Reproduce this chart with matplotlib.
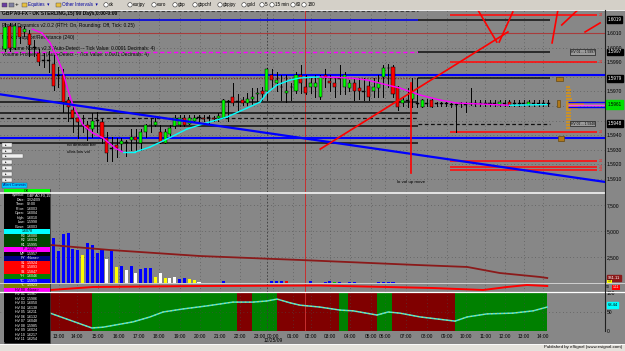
import matplotlib
matplotlib.use("Agg")
import matplotlib.pyplot as plt
from matplotlib.patches import Rectangle, Circle

plt.rcParams["font.family"] = ["Liberation Sans", "DejaVu Sans"]

W, H = 625, 351
BG = "#878787"
X0_PX, BAR_PX, PLOT_R = 5.0, 4.85, 605.0

# ---- 15 min bars, GBP A0-FX ----
opens = [1.5999, 1.6015, 1.6000, 1.6014, 1.6011, 1.6009, 1.6000, 1.5996, 1.5991, 1.5991,
         1.5989, 1.5981, 1.5981, 1.5964, 1.5957, 1.5952, 1.5947, 1.5947, 1.5944, 1.5950,
         1.5949, 1.5938, 1.5931, 1.5933, 1.5934, 1.5935, 1.5937, 1.5939, 1.5935, 1.5942,
         1.5947, 1.5947, 1.5942, 1.5935, 1.5941, 1.5946, 1.5947, 1.5952, 1.5948, 1.5950,
         1.5952, 1.5952, 1.5952, 1.5952, 1.5952, 1.5952, 1.5963, 1.5966, 1.5963, 1.5964,
         1.5962, 1.5965, 1.5968, 1.5970, 1.5970, 1.5981, 1.5976, 1.5973, 1.5969, 1.5973,
         1.5970, 1.5981, 1.5973, 1.5973, 1.5973, 1.5966, 1.5981, 1.5977, 1.5976, 1.5979,
         1.5973, 1.5972, 1.5976, 1.5972, 1.5970, 1.5974, 1.5970, 1.5972, 1.5980, 1.5986,
         1.5987, 1.5973, 1.5962, 1.5964, 1.5965, 1.5962, 1.5959, 1.5962, 1.5964, 1.5962,
         1.5962, 1.5962, 1.5961, 1.5961, 1.5962, 1.5961, 1.5962, 1.5962, 1.5962, 1.5962,
         1.5962, 1.5962, 1.5961, 1.5962, 1.5963, 1.5962, 1.5962, 1.5962, 1.5961, 1.5962,
         1.5962, 1.5962, 1.5962]
highs = [1.6017, 1.6017, 1.6017, 1.6015, 1.6015, 1.6012, 1.6005, 1.5999, 1.5996, 1.5998,
         1.5995, 1.5987, 1.5985, 1.5966, 1.5961, 1.5954, 1.5954, 1.5950, 1.5955, 1.5956,
         1.5952, 1.5942, 1.5939, 1.5938, 1.5938, 1.5937, 1.5944, 1.5944, 1.5944, 1.5948,
         1.5952, 1.5952, 1.5947, 1.5944, 1.5947, 1.5954, 1.5954, 1.5954, 1.5954, 1.5954,
         1.5954, 1.5954, 1.5954, 1.5953, 1.5955, 1.5965, 1.5964, 1.5976, 1.5968, 1.5966,
         1.5969, 1.5972, 1.5972, 1.5973, 1.5986, 1.5985, 1.5983, 1.5981, 1.5981, 1.5976,
         1.5983, 1.5988, 1.5981, 1.5979, 1.5981, 1.5981, 1.5985, 1.5981, 1.5979, 1.5988,
         1.5983, 1.5978, 1.5979, 1.5979, 1.5979, 1.5978, 1.5979, 1.5981, 1.5988, 1.5989,
         1.5988, 1.5974, 1.5966, 1.5972, 1.5979, 1.5979, 1.5965, 1.5965, 1.5965, 1.5963,
         1.5963, 1.5963, 1.5962, 1.5962, 1.5963, 1.5963, 1.5972, 1.5964, 1.5964, 1.5964,
         1.5964, 1.5964, 1.5964, 1.5964, 1.5964, 1.5964, 1.5964, 1.5964, 1.5964, 1.5964,
         1.5964, 1.5964, 1.5964]
lows = [1.5998, 1.5998, 1.5999, 1.6003, 1.6008, 1.5994, 1.5994, 1.5988, 1.5987, 1.5983,
        1.5971, 1.5973, 1.5956, 1.5950, 1.5942, 1.5938, 1.5942, 1.5937, 1.5939, 1.5942,
        1.5935, 1.5922, 1.5922, 1.5925, 1.5930, 1.5926, 1.5930, 1.5930, 1.5930, 1.5939,
        1.5942, 1.5946, 1.5935, 1.5935, 1.5939, 1.5945, 1.5946, 1.5946, 1.5948, 1.5949,
        1.5949, 1.5950, 1.5948, 1.5950, 1.5950, 1.5952, 1.5950, 1.5961, 1.5957, 1.5961,
        1.5961, 1.5961, 1.5963, 1.5964, 1.5964, 1.5972, 1.5970, 1.5964, 1.5963, 1.5964,
        1.5969, 1.5969, 1.5968, 1.5969, 1.5966, 1.5965, 1.5973, 1.5970, 1.5966, 1.5968,
        1.5968, 1.5970, 1.5964, 1.5965, 1.5964, 1.5964, 1.5966, 1.5966, 1.5966, 1.5973,
        1.5966, 1.5957, 1.5960, 1.5959, 1.5959, 1.5959, 1.5959, 1.5960, 1.5959, 1.5960,
        1.5960, 1.5960, 1.5959, 1.5942, 1.5959, 1.5956, 1.5961, 1.5960, 1.5960, 1.5960,
        1.5960, 1.5960, 1.5960, 1.5960, 1.5960, 1.5960, 1.5960, 1.5960, 1.5960, 1.5960,
        1.5960, 1.5960, 1.5960]
closes = [1.6014, 1.6000, 1.6015, 1.6007, 1.6013, 1.6002, 1.6000, 1.5990, 1.5991, 1.5991,
          1.5974, 1.5981, 1.5963, 1.5959, 1.5952, 1.5949, 1.5947, 1.5944, 1.5950, 1.5950,
          1.5938, 1.5928, 1.5931, 1.5931, 1.5936, 1.5935, 1.5939, 1.5937, 1.5942, 1.5947,
          1.5947, 1.5949, 1.5935, 1.5942, 1.5945, 1.5952, 1.5952, 1.5947, 1.5952, 1.5952,
          1.5952, 1.5951, 1.5952, 1.5951, 1.5953, 1.5964, 1.5963, 1.5962, 1.5963, 1.5962,
          1.5965, 1.5966, 1.5969, 1.5968, 1.5985, 1.5978, 1.5978, 1.5973, 1.5970, 1.5973,
          1.5981, 1.5976, 1.5969, 1.5976, 1.5976, 1.5980, 1.5980, 1.5976, 1.5973, 1.5979,
          1.5981, 1.5976, 1.5970, 1.5970, 1.5970, 1.5966, 1.5973, 1.5976, 1.5986, 1.5986,
          1.5968, 1.5959, 1.5964, 1.5964, 1.5969, 1.5962, 1.5964, 1.5962, 1.5959, 1.5962,
          1.5962, 1.5962, 1.5961, 1.5961, 1.5962, 1.5961, 1.5962, 1.5962, 1.5962, 1.5962,
          1.5962, 1.5962, 1.5963, 1.5962, 1.5961, 1.5962, 1.5962, 1.5962, 1.5963, 1.5962,
          1.5962, 1.5962, 1.5962]

# moving average (magenta falling / cyan rising)
ma_x = [5.6, 7.6, 9.3, 10.7, 11.8, 12.8, 13.8, 14.8, 16.1, 18.1, 20.2, 22.7, 24.3, 26.8,
        29.9, 33.4, 37.5, 40.8, 45.8, 49.9, 52.6, 54.0, 56.1, 58.8, 60.8, 64.9, 71.1,
        74.6, 81.4, 85.6, 89.7, 93.2, 97.9, 104.0, 111.8]
ma_p = [1.60127, 1.6010, 1.60032, 1.59936, 1.59847, 1.5973, 1.59627, 1.59552, 1.5947,
        1.59415, 1.59381, 1.59312, 1.59285, 1.59285, 1.59319, 1.59374, 1.59442, 1.59477,
        1.59525, 1.59586, 1.59627, 1.59689, 1.59744, 1.59778, 1.59792, 1.59799, 1.59792,
        1.59778, 1.59723, 1.59675, 1.59641, 1.5962, 1.59614, 1.59605, 1.5961]

# support / resistance levels
left_blue = [1.6019]
left_magenta = [1.5997]
left_maroon = [1.5979]
left_black = [1.5963, 1.5955, 1.5946, 1.5935]
left_black_dash = [1.5952]
right_black = [1.6019, 1.5997, 1.5979]
right_black_dash = [1.5948]
red_levels = [1.6022, 1.5990, 1.5942, 1.5922, 1.5918, 1.5916]
full_blue = [1.5981, 1.5938]
pivot_line = 1.6010
LEFT_SPAN = (-1.03, 85.2)
RIGHT_SPAN = (85.2, 112.4)
RED_SPAN = (91.8, 122.1)

# hand drawn lines (bar, price) -> (bar, price)
blue_trend = (-1.03, 1.5968, 123.7, 1.5908)
red_marks = [(65.0, 1.59305, 103.7, 1.60107),
             (97.5, 1.60258, 101.4, 1.60038),
             (104.7, 1.60244, 101.9, 1.60038),
             (114.0, 1.60258, 112.8, 1.60032),
             (118.1, 1.60258, 114.8, 1.60155),
             (122.7, 1.60169, 119.6, 1.60107),
             (83.7, 1.59757, 83.7, 1.59141)]

# volume profile on the right
prof_p = [1.5973, 1.5971, 1.5969, 1.5967, 1.5965, 1.5963, 1.5961, 1.5959, 1.5957,
          1.5955, 1.5953, 1.5951, 1.5949, 1.5947, 1.5945]
prof_w = [0.8, 1.0, 1.0, 1.1, 1.2, 2.0, 3.6, 2.4, 1.1, 1.0, 1.1, 1.0, 0.9, 1.0, 0.8]

# volume pane
vol_bar = list(range(10, 41)) + [45, 55, 56, 57, 58, 63, 66, 67, 68, 69, 71, 72, 77, 78, 79, 80]
vol = [4330, 3070, 4700, 4800, 3260, 3170, 2690, 3840, 3650, 2880, 3260, 2300, 3170,
       1540, 1630, 1250, 1630, 960, 1340, 1440, 1440, 580, 960, 480, 480, 580, 380, 480,
       380, 290, 100, 200, 150, 150, 200, 150, 150, 100, 150, 100, 100, 100, 100, 100,
       100, 100, 120]
vol_col = "bbbbbbybbbbwbybwbwbbbywywwbbyyw" + "bbbbrbbbgbbbbbbbr"
vol_ma_x = [9.3, 21.6, 40.2, 60.8, 84.9, 95.3, 102.0, 110.3, 111.8]
vol_ma = [3650, 3170, 2590, 2210, 1730, 1540, 960, 580, 480]

# thin strip pane
strip_x = [9.3, 18.1, 40.2, 64.9, 88.2, 98.6, 103.5, 107.6, 111.8]
strip_v = [2, 5, 6, 6.5, 4, 2, 5, 7, 6]

# oscillator pane
osc_x = [9.3, 17.9, 20.2, 26.4, 29.9, 32.6, 36.7, 41.6, 47.0, 51.1, 54.0, 56.1, 58.8,
         60.8, 64.9, 69.1, 71.8, 76.7, 79.0, 81.4, 85.6, 92.8, 95.3, 99.4, 104.7, 108.9, 111.8]
osc_v = [47, 8, 10, 24, 37, 50, 58, 66, 76, 76, 79, 84, 74, 68, 63, 55, 53, 42, 50, 47,
         37, 26, 37, 45, 47, 53, 63]
regime_edges = [9.3, 17.9, 47.8, 51.0, 56.0, 68.9, 70.7, 76.7, 79.8, 92.8, 111.8]
regime_up = [False, True, False, True, False, True, False, True, False, True]

hour_labels = ["13:00", "14:00", "15:00", "16:00", "17:00", "18:00", "19:00", "20:00",
               "21:00", "22:00", "23:00", "00:00", "01:00", "02:00", "03:00", "04:00",
               "05:00", "06:00", "07:00", "08:00", "09:00", "10:00", "11:00", "12:00",
               "13:00", "14:00"]
hour_pos = [11.1, 14.8, 19.2, 23.5, 27.6, 31.8, 36.1, 40.2, 44.3, 48.5, 52.6, 55.3, 59.4,
            63.1, 67.0, 71.1, 75.5, 78.4, 82.7, 87.0, 91.1, 95.1, 99.0, 103.1, 107.0, 110.9]

# price scale labels (1.5980 / 1.5960 / 1.5950 sit under price flags)
price_grid = [1.5910, 1.5920, 1.5930, 1.5940, 1.5950, 1.5960, 1.5970, 1.5980, 1.5990,
              1.6000, 1.6010]
price_labels = [1.5910, 1.5920, 1.5930, 1.5940, 1.5970, 1.5990, 1.6000, 1.6010]
flag_black = [1.6019, 1.5997, 1.5979, 1.5948]
flag_last = 1.5961

info_rows = [("Symbol:", "GBP A0-FX,15", "k"), ("Date:", "12/24/09", "k"),
             ("Time:", "02:00", "k"), ("Price:", "1.6003", "k"), ("Open:", "1.6004", "k"),
             ("High:", "1.6010", "k"), ("Low:", "1.5998", "k"), ("Close:", "1.6003", "k"),
             ("", "1.6078", "c"), ("R3", "1.6080", "dg"), ("R2", "1.6034", "dg"),
             ("R1", "1.5995", "dg"), ("P", "1.5957", "m"), ("MP", "1.5957", "k"),
             ("PY", "<None>", "n"), ("S1", "1.5924", "r"), ("S2", "1.5893", "r"),
             ("S3", "1.5847", "r"), ("YH", "1.6046", "g"), ("YC", "1.5959", "b"),
             ("YL", "1.5923", "o"), ("HV 00", "<None>", "m"), ("HV 01", "1.5967", "k"),
             ("HV 02", "1.5986", "k"), ("HV 03", "1.6050", "k"), ("HV 04", "1.6138", "k"),
             ("HV 05", "1.6211", "k"), ("HV 06", "1.6132", "k"), ("HV 07", "1.6048", "k"),
             ("HV 08", "1.5985", "k"), ("HV 09", "1.6024", "k"), ("HV 10", "1.6217", "k"),
             ("HV 11", "1.6254", "k")]
row_bg = {"k": "black", "c": "#00ffff", "dg": "#004400", "m": "#ff00ff", "n": "#000080",
          "r": "#ff0000", "g": "#008000", "b": "#0000ff", "o": "#808000"}

toolbar_items = [(106, "dx"), (130, "eurjpy"), (154, "euro"), (175, "gbp"), (195, "gbpchf"),
                 (220, "gbpjpy"), (244, "gold"), (262, "5"), (272, "15 min"), (293, "60"),
                 (304, "180")]

fig = plt.figure(figsize=(W / 100, H / 100), dpi=100, facecolor=BG)


def px_axes(x0, y0, x1, y1):
    a = fig.add_axes([x0 / W, 1 - y1 / H, (x1 - x0) / W, (y1 - y0) / H])
    a.set_facecolor(BG)
    for s in a.spines.values():
        s.set_visible(False)
    a.set_xlim(-X0_PX / BAR_PX, (PLOT_R - X0_PX) / BAR_PX)
    a.yaxis.tick_right()
    a.tick_params(axis="both", length=0, labelsize=3.6, pad=1.5, colors="black")
    a.set_xticks([])
    for hp in hour_pos:
        a.axvline(hp, color="#4a4a4a", lw=0.5, ls=(0, (1, 4)), zorder=0.5)
    a.axvline(54.0, color="#3a3a3a", lw=0.6, ls=(0, (2, 2)), zorder=0.6)
    a.axvline(61.9, color="#c83030", lw=0.7, zorder=0.6)
    return a


# ---------------- price pane ----------------
ax = px_axes(0, 10, 605, 192)
ax.set_ylim(1.59011, 1.602575)
ax.set_yticks(price_labels)
ax.set_yticklabels([f"{v:.4f}" for v in price_labels])
for v in price_grid:
    ax.axhline(v, color="#4a4a4a", lw=0.5, ls=(0, (1, 4)), zorder=0.5)

ax.hlines(1.6025, *LEFT_SPAN, color="#3a3a3a", lw=0.8, ls=(0, (3, 2)), zorder=2)
ax.axhline(pivot_line, color="#a83c3c", lw=0.8, zorder=2)
ax.hlines(left_blue, *LEFT_SPAN, color="#0000e0", lw=1.2, zorder=2)
ax.hlines(left_magenta, *LEFT_SPAN, color="#ff00ff", lw=1.0, ls=(0, (3, 2)), zorder=2)
ax.hlines(left_maroon, *LEFT_SPAN, color="#7a3030", lw=1.0, ls=(0, (1, 1)), zorder=2)
ax.hlines(left_black, *LEFT_SPAN, color="#101010", lw=1.1, zorder=2)
ax.hlines(left_black_dash, *LEFT_SPAN, color="#101010", lw=0.9, ls=(0, (3, 2)), zorder=2)
ax.hlines(right_black, *RIGHT_SPAN, color="#101010", lw=1.1, zorder=2)
ax.hlines(right_black_dash, *RIGHT_SPAN, color="#101010", lw=0.9, ls=(0, (3, 2)), zorder=2)
ax.hlines(red_levels, *RED_SPAN, color="#ff1010", lw=1.2, zorder=2)
for p in red_levels:
    ax.text(RED_SPAN[1] + 0.3, p, "24", color="#ff2020", fontsize=2.6, va="center", zorder=2)
ax.hlines(full_blue, -1.03, 123.7, color="#0000ff", lw=1.5, zorder=2)

# indicator titles (behind the bars)
titles = [(2, 13.5, "GBP A0-FX - UK STERLING,15) 90 Days,0:00-0:00", "bold"),
          (2, 25, "Profile Dynamics v2.0.2 (RTH: On, Rounding: Off, Tick: 0.25)", "normal"),
          (2, 37, "Market Support/Resistance (240)", "normal"),
          (2, 48, "Hi Volume Nodes v2.3 (Auto-Detect -- Tick Value: 0.0001 Decimals: 4)", "normal"),
          (2, 54, "Volume Profile v2.3 (Auto-Detect -- Tick Value: 0.0001 Decimals: 4)", "normal")]
for tx, ty, s, wgt in titles:
    ax.text(tx / 605, (192 - ty) / 182, s, transform=ax.transAxes, fontsize=3.5,
            fontweight=wgt, va="center", ha="left", color="black", zorder=1)

# candles
for i, (o, h, l, c) in enumerate(zip(opens, highs, lows, closes)):
    ax.plot([i, i], [l, h], color="black", lw=0.7, zorder=3)
    if c > o:
        col = "#00ff00"
    elif c < o:
        col = "#ff0000"
    else:
        col = "black"
    body = max(abs(c - o), 0.00006)
    base = min(o, c) if c != o else o - 0.00003
    ax.bar(i, body, bottom=base, width=0.62, color=col, edgecolor="black",
           linewidth=0.35, zorder=4)

# moving average
for k in range(len(ma_x) - 1):
    col = "#00ffff" if ma_p[k + 1] >= ma_p[k] else "#ff00ff"
    ax.plot(ma_x[k:k + 2], ma_p[k:k + 2], color=col, lw=1.0, zorder=5,
            solid_capstyle="round")

# trend lines
bx0, bp0, bx1, bp1 = blue_trend
ax.plot([bx0, bx1], [bp0, bp1], color="#0000ff", lw=1.6, zorder=5)
for x0, p0, x1, p1 in red_marks:
    ax.plot([x0, x1], [p0, p1], color="#ff0000", lw=1.2, zorder=6, clip_on=False)

# volume profile + side markers
ax.barh(prof_p, prof_w, left=115.7, height=0.00015, color="#c8902a", zorder=3)
ax.hlines([1.5963, 1.5959], 116.0, 123.7, color="#0000ff", lw=1.0, zorder=4)
ax.hlines([1.5961], 116.0, 123.7, color="#ff40ff", lw=1.0, zorder=4)
for bx, bp, bw, bh in [(113.6, 1.5977, 1.4, 0.00028), (113.8, 1.5959, 0.6, 0.00052),
                       (114.0, 1.5936, 1.2, 0.00032)]:
    ax.add_patch(Rectangle((bx, bp), bw, bh, facecolor="#b07818", edgecolor="#5a3a00",
                           lw=0.4, zorder=4))
for p, s in [(1.5997, "HV 01 -- 1.5997"), (1.5948, "HV 02 -- 1.5948")]:
    ax.text(116.6, p, s, fontsize=2.4, va="center", ha="left", color="black", zorder=6,
            bbox=dict(boxstyle="square,pad=0.25", fc="#9a9a9a", ec="black", lw=0.4))

# notes
ax.text(12.8, 1.59333, "no demand bar", fontsize=3.2, color="black", zorder=6, va="center")
ax.text(12.8, 1.59285, "ultra low vol", fontsize=3.2, color="black", zorder=6, va="center")
ax.text(80.8, 1.59079, "lo vol up move", fontsize=3.2, color="black", zorder=6, va="center")

# price flags on the right axis
ytr = ax.get_yaxis_transform()
for p in flag_black:
    ax.text(1.004, p, f"{p:.4f}", transform=ytr, fontsize=3.3, color="white", va="center",
            ha="left", zorder=8, clip_on=False,
            bbox=dict(boxstyle="square,pad=0.2", fc="black", ec="black"))
ax.text(1.004, flag_last, f"{flag_last:.4f}", transform=ytr, fontsize=3.3, color="black",
        va="center", ha="left", zorder=8, clip_on=False,
        bbox=dict(boxstyle="square,pad=0.35", fc="#00e000", ec="#00e000"))

# ---------------- volume pane ----------------
av = px_axes(0, 193, 605, 283)
av.set_ylim(0, 8640)
av.set_yticks([2500, 5000, 7500])
av.set_yticklabels(["2,500", "5,000", "7,500"])
for v in [2500, 5000, 7500]:
    av.axhline(v, color="#4a4a4a", lw=0.5, ls=(0, (1, 4)), zorder=0.5)
cmap = {"b": "#0000ff", "y": "#ffff00", "w": "#ffffff", "g": "#00c000", "r": "#ff0000"}
av.bar(vol_bar, vol, width=0.62, color=[cmap[c] for c in vol_col], zorder=3)
av.plot(vol_ma_x, vol_ma, color="#8b1a1a", lw=1.3, zorder=4)
av.text(1.004, vol_ma[-1], "961.11", transform=av.get_yaxis_transform(), fontsize=3.0,
        color="white", va="center", ha="left", clip_on=False, zorder=8,
        bbox=dict(boxstyle="square,pad=0.2", fc="#8b1a1a", ec="#8b1a1a"))

# ---------------- strip pane ----------------
ast = px_axes(0, 283, 605, 292)
ast.set_ylim(0, 9)
ast.set_yticks([])
ast.plot(strip_x, strip_v, color="#ff0000", lw=1.4, zorder=3)

# ---------------- oscillator pane ----------------
ao = px_axes(0, 292, 605, 331)
ao.set_ylim(0, 102.6)
for k, up in enumerate(regime_up):
    ao.axvspan(regime_edges[k], regime_edges[k + 1], color="#008000" if up else "#800000",
               lw=0, zorder=0.2)
ao.axhline(50, color="#4a4a4a", lw=0.5, ls=(0, (1, 4)), zorder=0.5)
ao.set_yticks([0, 50, 100])
ao.set_yticklabels(["0", "50", "100"])
ao.plot(osc_x, osc_v, color="#40e0e0", lw=1.1, zorder=3)
ao.plot(osc_x, osc_v, color="#e8e040", lw=0.6, ls=(0, (2, 3)), zorder=4)
ao.text(1.004, osc_v[-1] + 5, "68.44", transform=ao.get_yaxis_transform(), fontsize=3.0,
        color="black", va="center", ha="left", clip_on=False, zorder=8,
        bbox=dict(boxstyle="square,pad=0.2", fc="#00ffff", ec="#00ffff"))
ao.set_xticks(hour_pos)
ao.set_xticklabels(hour_labels)
ao.tick_params(axis="x", labelsize=3.5, pad=2.2)
ao.text(55.3, -0.24, "12/25/09", transform=ao.get_xaxis_transform(), fontsize=3.5,
        ha="center", va="center", color="black")

# ---------------- window chrome ----------------
ov = fig.add_axes([0, 0, 1, 1], zorder=10)
ov.set_xlim(0, W)
ov.set_ylim(H, 0)
ov.axis("off")
ov.patch.set_alpha(0)

# toolbar
ov.add_patch(Rectangle((0, 0), W, 9.5, fc="#d4d0c8", ec="none"))
ov.plot([0, W], [9.6, 9.6], color="white", lw=0.6)
for x, c in [(1.5, "#6a3ca0"), (8.5, "#8080a0"), (22, "#e8c040"), (56, "#e8c040")]:
    ov.add_patch(Rectangle((x, 2.5), 5, 4.5, fc=c, ec="#404040", lw=0.3))
ov.text(16.5, 4.8, "+", fontsize=4.5, ha="center", va="center", color="black")
ov.text(28.5, 4.8, "Equities  \u25be", fontsize=3.3, ha="left", va="center", color="#0000a0")
ov.text(62.5, 4.8, "Other Intervals  \u25be", fontsize=3.3, ha="left", va="center", color="#0000a0")
for cx, s in toolbar_items:
    ov.add_patch(Circle((cx, 4.8), 2.2, fc="white", ec="#303030", lw=0.4))
    ov.text(cx + 3.2, 4.8, s, fontsize=3.3, ha="left", va="center", color="black")

# pane separators and axis line
ov.plot([0, 605], [193, 193], color="white", lw=1.1)
ov.plot([0, W], [283.3, 283.3], color="#d0d0d0", lw=0.7)
ov.plot([0, W], [291.6, 291.6], color="white", lw=0.9)
ov.plot([605, 605], [10, 331], color="#202020", lw=0.8)

# strip flags
ov.add_patch(Rectangle((607, 279.5), 5, 3.5, fc="#ffff00", ec="none"))
ov.text(609.5, 281.3, "13", fontsize=2.4, ha="center", va="center", color="black")
ov.add_patch(Rectangle((612, 284.5), 8, 5, fc="#ff0000", ec="none"))
ov.text(606, 287, "50", fontsize=2.6, ha="left", va="center", color="black")
ov.text(616, 287, "1.11", fontsize=2.4, ha="center", va="center", color="white")

# bottom status bar
ov.add_patch(Rectangle((0, 343.5), W, 7.5, fc="#e4e2dc", ec="none"))
ov.plot([0, W], [343.5, 343.5], color="white", lw=0.6)
ov.text(622, 347.3, "Published by eSignal (www.esignal.com)", fontsize=3.2, ha="right",
        va="center", color="black")

# left side buttons
for by in [143, 148.5, 154, 160, 166, 172, 178]:
    bw = 21 if by == 154 else 10
    ov.add_patch(Rectangle((2, by), bw, 4.2, fc="#f0f0f0", ec="#606060", lw=0.3))
    ov.text(5, by + 2.1, "\u25b8", fontsize=2.4, ha="left", va="center", color="black")
ov.add_patch(Rectangle((2, 183), 25, 4.6, fc="#00ccff", ec="#0060a0", lw=0.3))
ov.text(3, 185.3, "Alert Commin", fontsize=2.7, ha="left", va="center", color="#000080")

# data window
ROW = 4.5
ov.add_patch(Rectangle((4, 188.5), 46, 154.5, fc="black", ec="#404040", lw=0.4))
ov.add_patch(Rectangle((4, 188.5), 46, ROW, fc="#00ff00", ec="none"))
ov.text(27, 188.5 + ROW / 2, "OK", fontsize=2.7, ha="center", va="center", color="black")
for k, (lab, val, bgk) in enumerate(info_rows):
    y0 = 188.5 + ROW * (k + 1)
    ov.add_patch(Rectangle((4, y0), 46, ROW, fc=row_bg[bgk], ec="none"))
    tc = "black" if bgk in ("c", "m") else "white"
    if lab:
        ov.text(25, y0 + ROW / 2, lab, fontsize=2.6, ha="right", va="center", color=tc)
        ov.text(27, y0 + ROW / 2, val, fontsize=2.6, ha="left", va="center", color=tc)
    else:
        ov.text(27, y0 + ROW / 2, val, fontsize=2.6, ha="center", va="center", color=tc)

fig.savefig("out.png", dpi=100, facecolor=BG)
